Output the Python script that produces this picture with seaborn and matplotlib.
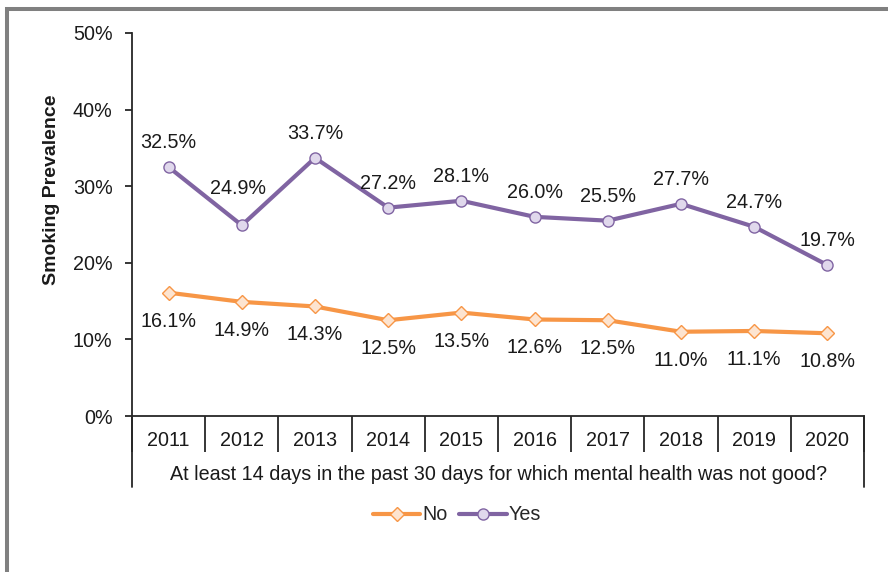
import matplotlib
matplotlib.use("Agg")
import matplotlib.pyplot as plt
from matplotlib.lines import Line2D
from matplotlib.patches import Rectangle
import seaborn as sns
import pandas as pd
import numpy as np

years = ["2011", "2012", "2013", "2014", "2015", "2016", "2017", "2018", "2019", "2020"]
no_vals = [16.1, 14.9, 14.3, 12.5, 13.5, 12.6, 12.5, 11.0, 11.1, 10.8]
yes_vals = [32.5, 24.9, 33.7, 27.2, 28.1, 26.0, 25.5, 27.7, 24.7, 19.7]
y_ticks = [0, 10, 20, 30, 40, 50]

sns.set_theme(style="white")
plt.rcParams['font.family'] = ['Liberation Sans', 'DejaVu Sans']

W, H = 888, 572
fig = plt.figure(figsize=(W / 100, H / 100), dpi=100)
ax = fig.add_axes([132 / W, 1 - 416 / H, (864 - 132) / W, (416 - 33) / H])

idx = np.arange(len(years))
df = pd.DataFrame({"idx": np.concatenate([idx, idx]),
                   "value": no_vals + yes_vals,
                   "series": ["No"] * len(years) + ["Yes"] * len(years)})

orange = "#F79646"
purple = "#8064A2"

sns.lineplot(data=df[df.series == "No"], x="idx", y="value", ax=ax, color=orange,
             linewidth=3, marker="D", markersize=7.5, markerfacecolor="#FDE4D0",
             markeredgecolor=orange, markeredgewidth=1, label="No")
sns.lineplot(data=df[df.series == "Yes"], x="idx", y="value", ax=ax, color=purple,
             linewidth=3, marker="o", markersize=8, markerfacecolor="#E0D8EC",
             markeredgecolor=purple, markeredgewidth=1, label="Yes")

fs = 14.2
for i, v in enumerate(yes_vals):
    dx, dy = (-3, 26.5) if i == 1 else (0, 17.5)
    ax.annotate(f"{v:.1f}%", (i, v), xytext=(dx, dy), textcoords="offset points",
                ha="center", va="center", fontsize=fs, color="#1a1a1a")
for i, v in enumerate(no_vals):
    ax.annotate(f"{v:.1f}%", (i, v), xytext=(0, -20.5), textcoords="offset points",
                ha="center", va="center", fontsize=fs, color="#1a1a1a")

ax.set_xlim(-0.5, len(years) - 0.5)
ax.set_ylim(0, 50)
ax.set_yticks(y_ticks)
ax.set_yticklabels([f"{t}%" for t in y_ticks], fontsize=fs, color="#1a1a1a")

ax.set_xticks(np.arange(-0.5, len(years), 1.0))
ax.set_xticklabels([])
ax.set_xticks(idx, minor=True)
ax.set_xticklabels(years, minor=True, fontsize=fs, color="#1a1a1a")
ax.tick_params(axis="x", which="major", direction="out", length=26, width=1.3,
               color="#262626", bottom=True)
ax.tick_params(axis="x", which="minor", length=0, pad=10.5, bottom=True)
ax.tick_params(axis="y", direction="out", length=5, width=1.3, color="#262626",
               left=True, pad=9)

for s in ["top", "right"]:
    ax.spines[s].set_visible(False)
for s in ["left", "bottom"]:
    ax.spines[s].set_color("#262626")
    ax.spines[s].set_linewidth(1.3)

# outer category bounding lines
trans = ax.get_xaxis_transform()
for xb in [-0.5, len(years) - 0.5]:
    ax.add_line(Line2D([xb, xb], [0, -(487 - 416) / (416 - 33)], transform=trans,
                       color="#262626", linewidth=1.3, clip_on=False))

ax.set_xlabel("")
ax.set_ylabel("")
fig.text(498 / W, 1 - 474 / H,
         "At least 14 days in the past 30 days for which mental health was not good?",
         ha="center", va="center", fontsize=fs, color="#1a1a1a")
fig.text(52 / W, 1 - 190 / H, "Smoking Prevalence", rotation=90, ha="center",
         va="center", fontsize=14, fontweight="bold", color="#1a1a1a")

ax.get_legend().remove()
handles, labels = ax.get_legend_handles_labels()
fig.legend(handles, labels, loc="center", bbox_to_anchor=(457 / W, 1 - 515 / H),
           ncol=2, frameon=False, fontsize=fs, handlelength=2.4, columnspacing=0.6,
           handletextpad=0.1)

fig.patches.append(Rectangle((7 / W, -0.1), 1.2, 1 - 9 / H + 0.1, transform=fig.transFigure,
                             fill=False, edgecolor="#808080", linewidth=2.9))

fig.savefig("out.png", dpi=100)
